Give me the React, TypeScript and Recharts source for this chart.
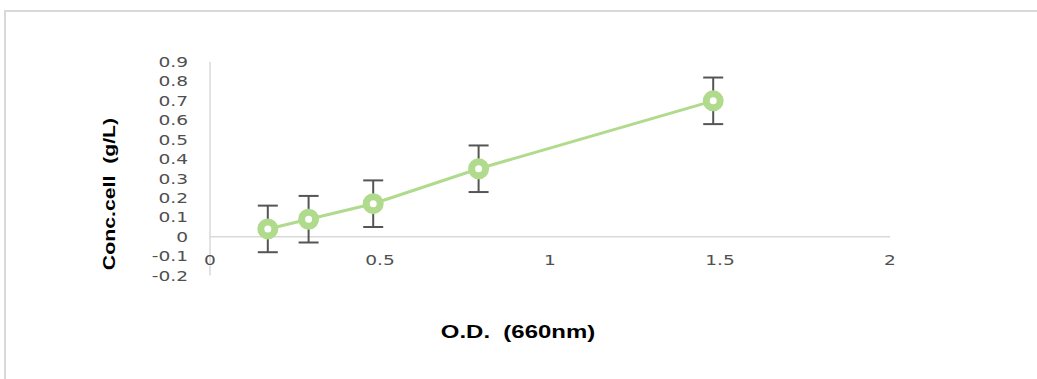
import React from 'react'
import { ComposedChart, Line, XAxis, YAxis, ErrorBar, ReferenceLine } from 'recharts'

// O.D. readings and matching cell concentration
const odValues = [0.17, 0.29, 0.48, 0.79, 1.48]
const concValues = [0.04, 0.09, 0.17, 0.35, 0.7]
const concErrors = [0.12, 0.12, 0.12, 0.12, 0.12]

const xTicks = [0, 0.5, 1, 1.5, 2]
const yTicks = [-0.2, -0.1, 0, 0.1, 0.2, 0.3, 0.4, 0.5, 0.6, 0.7, 0.8, 0.9]

const data = odValues.map((x, i) => ({ x, y: concValues[i], err: concErrors[i] }))

const GREEN = '#b0da8c'
const TICK_GRAY = '#505050'
const AXIS_GRAY = '#d9d9d9'

const fmt = (v: number) => String(Number(v.toFixed(1)))

const YTick = ({ x, y, payload }: any) => (
  <g transform={`translate(${x},${y}) scale(1.33,1)`}>
    <text x={0} y={0} dy="0.36em" textAnchor="end" fontFamily="DejaVu Sans" fontSize={14} fill={TICK_GRAY}>
      {fmt(payload.value)}
    </text>
  </g>
)

const XTick = ({ x, y, payload }: any) => (
  <g transform={`translate(${x},${y - 15.5}) scale(1.33,1)`}>
    <text x={0} y={0} dy="0.36em" textAnchor="middle" fontFamily="DejaVu Sans" fontSize={14} fill={TICK_GRAY}>
      {fmt(payload.value)}
    </text>
  </g>
)

const RingDot = ({ cx, cy }: any) => (
  <circle cx={cx} cy={cy} r={7} fill="#fff" stroke={GREEN} strokeWidth={7} />
)

export default function App() {
  return (
    <div style={{ position: 'absolute', left: 0, top: 0, width: 1037, height: 379, background: '#fff', overflow: 'hidden' }}>
      <div
        style={{
          position: 'absolute',
          left: 4,
          top: 10,
          right: -10,
          bottom: -10,
          borderLeft: `2px solid ${AXIS_GRAY}`,
          borderTop: `2px solid ${AXIS_GRAY}`,
        }}
      />
      <div style={{ position: 'absolute', left: 0, top: 0 }}>
        <ComposedChart width={1037} height={379} data={data} margin={{ top: 62, right: 147, bottom: 83.5, left: 150 }}>
          <XAxis
            type="number"
            dataKey="x"
            domain={[0, 2]}
            ticks={xTicks}
            interval={0}
            height={20}
            axisLine={false}
            tickLine={false}
            tickSize={0}
            tickMargin={0}
            tick={<XTick />}
          />
          <YAxis
            type="number"
            domain={[-0.2, 0.9]}
            ticks={yTicks}
            interval={0}
            width={60}
            axisLine={{ stroke: AXIS_GRAY, strokeWidth: 1.5 }}
            tickLine={false}
            tickMargin={16}
            tick={<YTick />}
          />
          <ReferenceLine y={0} stroke={AXIS_GRAY} strokeWidth={1.5} />
          <Line
            dataKey="y"
            stroke={GREEN}
            strokeWidth={3}
            dot={<RingDot />}
            activeDot={false}
            isAnimationActive={false}
          >
            <ErrorBar dataKey="err" direction="y" width={10} stroke="#555555" strokeWidth={2} />
          </Line>
        </ComposedChart>
      </div>
      <div
        style={{
          position: 'absolute',
          left: 110,
          top: 194,
          transform: 'translate(-50%, -50%) rotate(-90deg) scaleX(1.25)',
          whiteSpace: 'pre',
          fontFamily: '"Liberation Sans", Arial, sans-serif',
          fontWeight: 'bold',
          fontSize: 17,
          color: '#000',
        }}
      >
        {'Conc.cell  (g/L)'}
      </div>
      <div
        style={{
          position: 'absolute',
          left: 518,
          top: 332,
          transform: 'translate(-50%, -50%) scaleX(1.33)',
          whiteSpace: 'pre',
          fontFamily: '"Liberation Sans", Arial, sans-serif',
          fontWeight: 'bold',
          fontSize: 18,
          color: '#000',
        }}
      >
        {'O.D.  (660nm)'}
      </div>
    </div>
  )
}
